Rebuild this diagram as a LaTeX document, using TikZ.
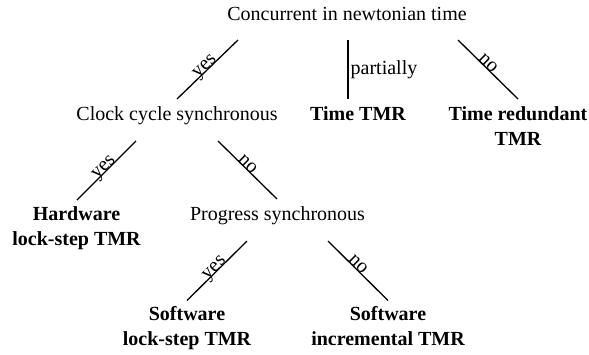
\documentclass[tikz,border=0pt]{standalone}
\usepackage{fontspec}
\setmainfont{Liberation Serif}
\usetikzlibrary{calc}
\begin{document}
\begin{tikzpicture}[x=1pt,y=-1pt,
  every node/.style={inner sep=0pt, font=\fontsize{20}{24.5}\selectfont},
  inner/.style={anchor=base},
  leaf/.style={anchor=base, align=center, font=\fontsize{20}{24.5}\selectfont\bfseries},
  edge/.style={line width=1.3pt},
  elab/.style={sloped, anchor=base, inner sep=0pt, font=\fontsize{20}{24}\selectfont}]
\useasboundingbox (0,0) rectangle (589,354);
% nodes (base anchor of a two-line node lies on its last line)
\node[inner] (root) at (347,20) {Concurrent in newtonian time};
\node[inner] (ccs)  at (177,120) {Clock cycle synchronous};
\node[leaf]  (ttmr) at (358,120) {Time TMR};
\node[leaf]  (tr)   at (518,145) {Time redundant\\TMR};
\node[leaf]  (hw)   at (76.5,245) {Hardware\\lock-step TMR};
\node[inner] (ps)   at (277.5,220) {Progress synchronous};
\node[leaf]  (swl)  at (187,345) {Software\\lock-step TMR};
\node[leaf]  (swi)  at (388,345) {Software\\incremental TMR};
% connector ends on the parent side
\coordinate (r1) at ($(root.base)+(-109,20)$);
\coordinate (r2) at ($(root.base)+(1,20)$);
\coordinate (r3) at ($(root.base)+(111,20)$);
\coordinate (c1) at ($(ccs.base)+(-41,21)$);
\coordinate (c2) at ($(ccs.base)+(41,21)$);
\coordinate (p1) at ($(ps.base)+(-30.5,21)$);
\coordinate (p2) at ($(ps.base)+(50.5,21)$);
% connector ends on the child side
\coordinate (ccsT) at ($(ccs.base)+(0,-21)$);
\coordinate (ttmrT) at ($(r2)+(0,59)$);
\coordinate (trT) at ($(tr.base)+(0,-46)$);
\coordinate (hwT) at ($(hw.base)+(0.5,-45)$);
\coordinate (psT) at ($(ps.base)+(-0.5,-21)$);
\coordinate (swlT) at ($(swl.base)+(0,-44.5)$);
\coordinate (swiT) at ($(swi.base)+(0,-44.5)$);
% connectors
\draw[edge] (ccsT) -- node[elab, midway] {yes} (r1);
\draw[edge] (r2) -- node[midway, right, inner sep=2pt] {partially} (ttmrT);
\draw[edge] (r3) -- node[elab, pos=0.45] {no} (trT);
\draw[edge] (hwT) -- node[elab, midway] {yes} (c1);
\draw[edge] (c2) -- node[elab, pos=0.45] {no} (psT);
\draw[edge] (swlT) -- node[elab, midway] {yes} (p1);
\draw[edge] (p2) -- node[elab, pos=0.45] {no} (swiT);
\end{tikzpicture}
\end{document}
